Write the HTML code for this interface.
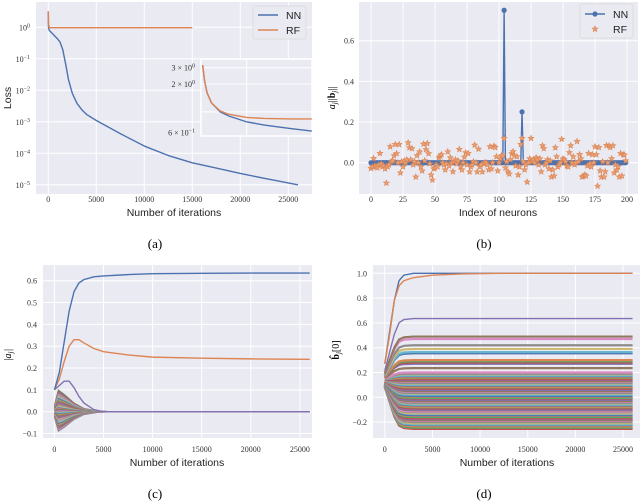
<!DOCTYPE html>
<html><head><meta charset="utf-8">
<style>
body{margin:0;background:#fff;}
svg{display:block;font-family:"Liberation Serif",serif;}
.tk{font-size:8px;fill:#333;}
.al{font-family:"Liberation Sans",sans-serif;font-size:10.5px;fill:#222;}
.cap{font-size:13px;fill:#000;}
</style></head><body>
<svg id="fig" width="640" height="504" viewBox="0 0 640 504" xmlns="http://www.w3.org/2000/svg">
<defs>
<clipPath id="ca"><rect x="36" y="2" width="276" height="192"/></clipPath>
<clipPath id="ci"><rect x="201" y="59" width="111" height="77"/></clipPath>
<clipPath id="cc"><rect x="43" y="265" width="269" height="173"/></clipPath>
<clipPath id="cd"><rect x="373" y="265" width="267" height="173"/></clipPath>
</defs>
<g id="pa"></g>
<g id="pb"></g>
<g id="pc"></g>
<g id="pd"></g>
<text class="cap" x="155" y="248" text-anchor="middle">(a)</text>
<text class="cap" x="484" y="248" text-anchor="middle">(b)</text>
<text class="cap" x="155" y="498" text-anchor="middle">(c)</text>
<text class="cap" x="484" y="498" text-anchor="middle">(d)</text>
</svg>
<script>
// ---- data ----
const nnIters=[0,20,100,500,900,1200,1500,1800,2100,2500,3000,3500,4000,5000,6000,7500,10000,12500,15000,17500,20000,22500,26000];
const nnLoss=[3.2,1.0,0.8,0.6,0.45,0.35,0.2,0.07,0.022,0.008,0.0038,0.0024,0.0017,0.0011,0.00075,0.00042,0.00017,0.000085,0.00005,0.000034,0.000023,0.000016,0.00001];
const rfIters=[0,20,100,15000];
const rfLoss=[3.2,1.3,0.97,0.97];
const insetIters=[0,20,50,100,200,300,500,700,1000,1240];
const insetNN=[3.2,2.2,1.6,1.25,1.0,0.9,0.78,0.72,0.66,0.62];
const insetRF=[3.2,2.2,1.6,1.25,1.02,0.94,0.87,0.85,0.84,0.84];
const logTicks=[0,-1,-2,-3,-4,-5];
const iterTicks=[0,5000,10000,15000,20000,25000];
const neuronTicks=[0,25,50,75,100,125,150,175,200];
const bTicks=[0,0.2,0.4,0.6];
const nnSpikeIdx=[104,118];
const nnSpikeVal=[0.75,0.25];
const rfVals=[-0.028,-0.02,0.021,-0.015,-0.02,-0.025,-0.01,0.046,-0.005,-0.02,
-0.015,-0.03,-0.10,-0.02,-0.01,0.079,0.005,0.01,0.035,0.09,
0.045,0.0,0.09,-0.05,0.005,-0.02,0.01,0.0,0.015,0.098,
0.074,0.015,0.07,-0.01,0.005,-0.07,0.035,0.0,0.054,-0.02,
-0.04,0.092,0.01,0.065,0.095,0.045,-0.005,-0.06,-0.085,-0.03,
-0.025,-0.01,-0.02,0.025,0.033,0.04,0.0,-0.01,-0.035,-0.005,
0.054,-0.015,0.025,0.0,-0.044,0.005,0.015,-0.005,0.01,0.066,
-0.02,-0.035,0.0,0.028,0.05,-0.01,0.046,-0.045,-0.02,-0.01,
0.005,0.087,0.0,-0.045,0.067,-0.02,-0.01,-0.045,-0.005,0.0,
0.0,-0.01,-0.035,0.079,-0.03,0.0,0.082,0.075,0.03,-0.04,
0.0,0.02,0.035,0.034,0.12,-0.025,0.005,-0.045,-0.055,0.015,
0.045,0.055,0.035,-0.015,0.03,-0.06,-0.02,0.09,0.12,0.005,
-0.035,-0.01,-0.095,0.0,0.02,0.12,0.005,0.015,0.0,0.025,
0.015,-0.01,0.02,-0.044,0.084,0.07,-0.01,0.0,0.015,-0.03,
0.01,-0.07,-0.035,-0.065,0.074,0.03,-0.02,-0.01,0.0,0.116,
0.02,0.015,0.005,-0.015,-0.02,0.05,0.084,0.0,0.03,-0.01,
0.0,0.105,0.005,0.04,0.02,-0.07,-0.066,-0.06,-0.065,-0.015,
0.046,-0.005,-0.02,0.04,0.0,0.079,0.04,-0.115,0.075,-0.04,
-0.07,0.005,-0.07,-0.044,0.085,0.0,0.084,0.075,0.02,0.084,
-0.05,-0.01,-0.035,-0.02,-0.07,0.046,-0.065,0.04,0.038,0.01];
const cIters=[0,500,1000,1500,2000,2500,3000,4000,5000,7500,10000,15000,20000,26000];
const cTop=[0.1,0.18,0.32,0.46,0.55,0.59,0.605,0.618,0.622,0.628,0.632,0.634,0.635,0.635];
const cSecond=[0.1,0.15,0.23,0.3,0.33,0.33,0.315,0.29,0.275,0.26,0.25,0.245,0.242,0.24];
const cThird=[0.1,0.12,0.14,0.14,0.11,0.07,0.04,0.01,0.0,0.0,0.0,0.0,0.0,0.0];
const cProfIters=[0,400,1000,2000,3000,4500,6000,26000];
const cProfile=[0.3,1,0.8,0.4,0.15,0.03,0,0];
const cPeaks=[0.1,0.095,0.09,0.085,0.08,0.075,0.07,0.065,0.06,0.055,0.05,0.045,0.04,0.035,0.03,0.028,0.025,0.02,0.018,0.015,0.012,0.01,0.008,0.005,0.003,0.0,-0.003,-0.006,-0.01,-0.014,-0.018,-0.022,-0.026,-0.03,-0.035,-0.04,-0.045,-0.05,-0.055,-0.06,-0.065,-0.07,-0.075,-0.08,-0.085,-0.09];
const cTicks=[-0.1,0,0.1,0.2,0.3,0.4,0.5,0.6];
const dProfIters=[0,500,1000,1500,2000,3000,26000];
const dProfile=[0,0.35,0.7,0.92,0.98,1,1];
const dFinals=[1.0,0.635,0.49,0.47,0.42,0.39,0.365,0.355,0.3,0.29,0.28,0.27,0.235,0.2,0.19,0.185,0.175,0.17,0.16,0.155,0.145,0.14,0.13,0.125,0.115,0.11,0.1,0.095,0.085,0.08,0.07,0.06,0.05,0.045,0.035,0.03,0.02,0.01,0.005,-0.005,-0.01,-0.02,-0.03,-0.035,-0.045,-0.05,-0.06,-0.065,-0.075,-0.08,-0.09,-0.1,-0.105,-0.115,-0.12,-0.13,-0.135,-0.145,-0.15,-0.16,-0.17,-0.175,-0.185,-0.19,-0.2,-0.21,-0.22,-0.225,-0.235,-0.245,-0.255];
const dSlowIters=[0,500,1000,1500,2000,3000,5000,8000,12000,26000];
const dSlow=[0.27,0.5,0.78,0.9,0.94,0.965,0.985,0.995,1.0,1.0];
const dTicks=[-0.2,0,0.2,0.4,0.6,0.8,1.0];

const pal=['#4C72B0','#DD8452','#55A868','#C44E52','#8172B3','#937860','#DA8BC3','#8C8C8C','#CCB974','#64B5CD'];
const NS='http://www.w3.org/2000/svg';
function mk(p,tag,at,txt){const e=document.createElementNS(NS,tag);for(const k in at)e.setAttribute(k,at[k]);if(txt!==undefined)e.textContent=txt;p.appendChild(e);return e;}
function path(xs,ys,fx,fy){return xs.map((x,i)=>(i?'L':'M')+fx(x).toFixed(2)+','+fy(ys[i]).toFixed(2)).join('');}

// ---- panel a ----
const pa=document.getElementById('pa');
const xa=t=>48.3+t*0.0096, ya=v=>27.3-Math.log10(v)*31.5;
let bg=mk(pa,'rect',{x:36,y:2,width:276,height:192,fill:'#EAEAF2'});


iterTicks.forEach(t=>{mk(pa,'line',{x1:xa(t),x2:xa(t),y1:2,y2:194,stroke:'#fff','stroke-width':1});
 const l=mk(pa,'text',{x:xa(t),y:202,class:'tk','text-anchor':'middle'},t);});
logTicks.forEach(e=>{const y=ya(Math.pow(10,e));mk(pa,'line',{x1:36,x2:312,y1:y,y2:y,stroke:'#fff','stroke-width':1});
 const l=mk(pa,'text',{x:30,y:y+3,class:'tk','text-anchor':'end'});
 mk(l,'tspan',{},'10');mk(l,'tspan',{dy:-3,'font-size':'6px'},e===0?'0':'−'+(-e));});
let g=mk(pa,'g',{'clip-path':'url(#ca)'});
let p=mk(g,'path',{d:path(nnIters,nnLoss,xa,ya),fill:'none',stroke:pal[0],'stroke-width':1.4,'stroke-linejoin':'round'});

p=mk(g,'path',{d:path(rfIters,rfLoss,xa,ya),fill:'none',stroke:pal[1],'stroke-width':1.4});

// inset
const xi=t=>202.7+t*0.088, yi=v=>84-(Math.log10(v)-Math.log10(2))*92.6;
let ig=mk(pa,'g',{});
mk(ig,'rect',{x:201,y:59,width:111,height:77,fill:'#EAEAF2',stroke:'#fff','stroke-width':1.5});
mk(ig,'line',{x1:xi(500),x2:xi(500),y1:59,y2:136,stroke:'#fff'});
[3,2,1].forEach(v=>mk(ig,'line',{x1:201,x2:312,y1:yi(v),y2:yi(v),stroke:'#fff'}));
[[3,'3 × 10','0'],[2,'2 × 10','0'],[0.6,'6 × 10','−1']].forEach(a=>{const l=mk(ig,'text',{x:195,y:Math.min(yi(a[0]),133)+3,class:'tk','text-anchor':'end'});
 mk(l,'tspan',{},a[1]);mk(l,'tspan',{dy:-3,'font-size':'6px'},a[2]);});
let ic=mk(ig,'g',{'clip-path':'url(#ci)'});
mk(ic,'path',{d:path(insetIters,insetNN,xi,yi),fill:'none',stroke:pal[0],'stroke-width':1.4});
mk(ic,'path',{d:path(insetIters,insetRF,xi,yi),fill:'none',stroke:pal[1],'stroke-width':1.4});
let al=mk(pa,'text',{x:174,y:216,class:'al','text-anchor':'middle'},'Number of iterations');
al=mk(pa,'text',{x:11,y:98,class:'al','text-anchor':'middle',transform:'rotate(-90 11 98)'},'Loss');
let lg=mk(pa,'g',{});
mk(lg,'rect',{x:253,y:6,width:53,height:33,fill:'#EAEAF2',stroke:'#ddd',rx:2});
mk(lg,'line',{x1:258,x2:278,y1:15,y2:15,stroke:pal[0],'stroke-width':1.4});
mk(lg,'text',{x:286,y:19,class:'al'},'NN');
mk(lg,'line',{x1:258,x2:278,y1:30,y2:30,stroke:pal[1],'stroke-width':1.4});
mk(lg,'text',{x:286,y:34,class:'al'},'RF');

// ---- panel b ----
const pb=document.getElementById('pb');
const xb=i=>371+i*1.28, yb=v=>162.7-v*203.3;
bg=mk(pb,'rect',{x:359,y:2,width:279,height:192,fill:'#EAEAF2'});

neuronTicks.forEach(t=>{mk(pb,'line',{x1:xb(t),x2:xb(t),y1:2,y2:194,stroke:'#fff'});
 const l=mk(pb,'text',{x:xb(t),y:202,class:'tk','text-anchor':'middle'},t);});
bTicks.forEach(v=>{mk(pb,'line',{x1:359,x2:638,y1:yb(v),y2:yb(v),stroke:'#fff'});
 const l=mk(pb,'text',{x:354,y:yb(v)+3,class:'tk','text-anchor':'end'},v.toFixed(1));});
const nnIdx=[],nnVal=[];for(let i=0;i<200;i++){nnIdx.push(i);const k=nnSpikeIdx.indexOf(i);nnVal.push(k>=0?nnSpikeVal[k]:0);}
p=mk(pb,'path',{d:path(nnIdx,nnVal,xb,yb),fill:'none',stroke:pal[0],'stroke-width':1.4});

nnIdx.forEach((i,k)=>{const c=mk(pb,'circle',{cx:xb(i),cy:yb(nnVal[k]),r:2.6,fill:pal[0]});});
function star(cx,cy,r){let s='';for(let k=0;k<10;k++){const a=-Math.PI/2+k*Math.PI/5,rr=k%2?r*0.45:r;s+=(k?'L':'M')+(cx+rr*Math.cos(a)).toFixed(2)+','+(cy+rr*Math.sin(a)).toFixed(2);}return s+'Z';}
rfVals.forEach((v,i)=>{const s=mk(pb,'path',{d:star(xb(i),yb(v),3),fill:'#E8A176',stroke:'#DD8452','stroke-width':0.6});});
al=mk(pb,'text',{x:498,y:216,class:'al','text-anchor':'middle'},'Index of neurons');
al=mk(pb,'text',{x:335,y:98,'font-size':'10px','font-style':'italic','text-anchor':'middle',transform:'rotate(-90 335 98)'},'a');
mk(al,'tspan',{'font-size':'7px',dy:2},'j');mk(al,'tspan',{dy:-2,'font-style':'normal'},'||');mk(al,'tspan',{'font-weight':'bold','font-style':'normal'},'b');mk(al,'tspan',{'font-size':'7px',dy:2},'j');mk(al,'tspan',{dy:-2,'font-style':'normal'},'||');
lg=mk(pb,'g',{});
mk(lg,'rect',{x:580,y:4,width:53,height:34,fill:'#EAEAF2',stroke:'#ddd',rx:2});
mk(lg,'line',{x1:585,x2:605,y1:14,y2:14,stroke:pal[0],'stroke-width':1.4});
mk(lg,'circle',{cx:595,cy:14,r:2.6,fill:pal[0]});
mk(lg,'text',{x:613,y:18,class:'al'},'NN');
mk(lg,'path',{d:star(595,29,3),fill:'#E8A176',stroke:'#DD8452','stroke-width':0.6});
mk(lg,'text',{x:613,y:33,class:'al'},'RF');

// ---- panel c ----
const pc=document.getElementById('pc');
const xc=t=>54.4+t*0.00982, yc=v=>411.7-v*218.3;
bg=mk(pc,'rect',{x:43,y:265,width:269,height:173,fill:'#EAEAF2'});

iterTicks.forEach(t=>{mk(pc,'line',{x1:xc(t),x2:xc(t),y1:265,y2:438,stroke:'#fff'});
 const l=mk(pc,'text',{x:xc(t),y:452,class:'tk','text-anchor':'middle'},t);});
cTicks.forEach(v=>{mk(pc,'line',{x1:43,x2:312,y1:yc(v),y2:yc(v),stroke:'#fff'});
 const l=mk(pc,'text',{x:37,y:yc(v)+3,class:'tk','text-anchor':'end'},(v<0?'−':'')+Math.abs(v).toFixed(1));});
g=mk(pc,'g',{'clip-path':'url(#cc)'});
cPeaks.forEach((a,k)=>{const ys=cProfile.map(f=>f*a);const l=mk(g,'path',{d:path(cProfIters,ys,xc,yc),fill:'none',stroke:pal[(k+2)%10],'stroke-width':1});
 });
[[cThird,pal[4]],[cSecond,pal[1]],[cTop,pal[0]]].forEach(s=>{const l=mk(g,'path',{d:path(cIters,s[0],xc,yc),fill:'none',stroke:s[1],'stroke-width':1.4});
 });
al=mk(pc,'text',{x:177,y:466,class:'al','text-anchor':'middle'},'Number of iterations');
al=mk(pc,'text',{x:11,y:355,'font-size':'10px','font-style':'italic','text-anchor':'middle',transform:'rotate(-90 11 355)'},'|a');
mk(al,'tspan',{'font-size':'7px',dy:2},'j');mk(al,'tspan',{dy:-2},'|');

// ---- panel d ----
const pd=document.getElementById('pd');
const xd=t=>384.8+t*0.00953, yd=v=>397.3-v*124;
bg=mk(pd,'rect',{x:373,y:265,width:267,height:173,fill:'#EAEAF2'});

iterTicks.forEach(t=>{mk(pd,'line',{x1:xd(t),x2:xd(t),y1:265,y2:438,stroke:'#fff'});
 const l=mk(pd,'text',{x:xd(t),y:452,class:'tk','text-anchor':'middle'},t);});
dTicks.forEach(v=>{mk(pd,'line',{x1:373,x2:640,y1:yd(v),y2:yd(v),stroke:'#fff'});
 const l=mk(pd,'text',{x:367,y:yd(v)+3,class:'tk','text-anchor':'end'},(v<0?'−':'')+Math.abs(v).toFixed(1));});
g=mk(pd,'g',{'clip-path':'url(#cd)'});
for(let k=dFinals.length-1;k>=0;k--){const f=dFinals[k];const s=0.12+f*0.15;const ys=dProfile.map(q=>s+(f-s)*q);
 const l=mk(g,'path',{d:path(dProfIters,ys,xd,yd),fill:'none',stroke:k===0?pal[0]:pal[(k+3)%10],'stroke-width':k<2?1.4:2.2});
 }
p=mk(g,'path',{d:path(dSlowIters,dSlow,xd,yd),fill:'none',stroke:pal[1],'stroke-width':1.4});

al=mk(pd,'text',{x:507,y:466,class:'al','text-anchor':'middle'},'Number of iterations');
al=mk(pd,'text',{x:339,y:350,'font-size':'10px','text-anchor':'middle',transform:'rotate(-90 339 350)'});
mk(al,'tspan',{'font-weight':'bold'},'b̂');mk(al,'tspan',{'font-size':'7px',dy:2,'font-style':'italic'},'j');mk(al,'tspan',{dy:-2},'[0]');
</script>
</body></html>
